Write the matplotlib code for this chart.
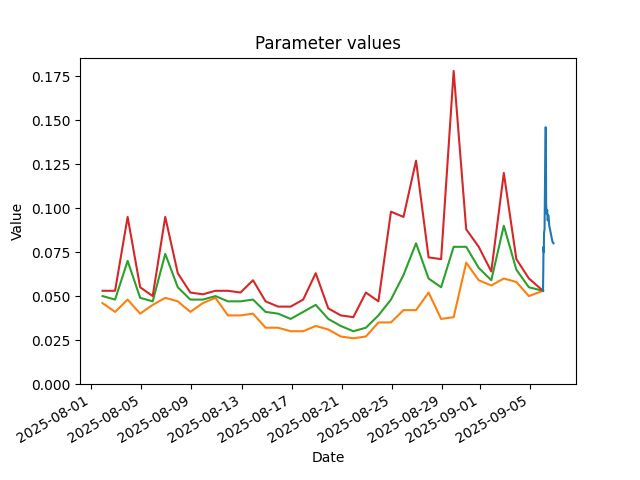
import numpy as np
import pandas as pd
import matplotlib
matplotlib.use("Agg")
import matplotlib.pyplot as plt

# daily parameter values (one per day, last one is the latest reading)
daily_times = list(pd.date_range("2025-08-01 22:00", periods=35, freq="D")) + [pd.Timestamp("2025-09-06 01:00")]
low = [0.046, 0.041, 0.048, 0.040, 0.045, 0.049, 0.047, 0.041, 0.046, 0.049,
       0.039, 0.039, 0.040, 0.032, 0.032, 0.030, 0.030, 0.033, 0.031, 0.027,
       0.026, 0.027, 0.035, 0.035, 0.042, 0.042, 0.052, 0.037, 0.038, 0.069,
       0.059, 0.056, 0.060, 0.058, 0.050, 0.053]
mid = [0.050, 0.048, 0.070, 0.049, 0.047, 0.074, 0.055, 0.048, 0.048, 0.050,
       0.047, 0.047, 0.048, 0.041, 0.040, 0.037, 0.041, 0.045, 0.037, 0.033,
       0.030, 0.032, 0.039, 0.048, 0.062, 0.080, 0.060, 0.055, 0.078, 0.078,
       0.066, 0.059, 0.090, 0.065, 0.055, 0.053]
high = [0.053, 0.053, 0.095, 0.055, 0.050, 0.095, 0.063, 0.052, 0.051, 0.053,
        0.053, 0.052, 0.059, 0.047, 0.044, 0.044, 0.048, 0.063, 0.043, 0.039,
        0.038, 0.052, 0.047, 0.098, 0.095, 0.127, 0.072, 0.071, 0.178, 0.088,
        0.078, 0.064, 0.120, 0.071, 0.060, 0.053]

# intraday values (hours after the last daily reading)
intraday_hours = [0, 0.5, 1, 1.5, 2, 3, 4, 5, 5.5, 6, 7, 8, 9, 10, 11, 12, 14, 16, 18, 20]
intraday_vals = [0.053, 0.064, 0.078, 0.075, 0.086, 0.088, 0.120, 0.146, 0.145, 0.102,
                 0.097, 0.099, 0.093, 0.096, 0.094, 0.090, 0.087, 0.084, 0.081, 0.080]
intraday_times = [daily_times[-1] + pd.Timedelta(hours=h) for h in intraday_hours]

fig, ax = plt.subplots(figsize=(6.4, 4.8), dpi=100)
ax.plot(daily_times, low, color="C1")
ax.plot(daily_times, mid, color="C2")
ax.plot(daily_times, high, color="C3")
ax.plot(intraday_times, intraday_vals, color="C0")
ax.set_ylim(bottom=0)
ax.set_title("Parameter values")
ax.set_xlabel("Date")
ax.set_ylabel("Value")
fig.autofmt_xdate()
fig.savefig("out.png")
